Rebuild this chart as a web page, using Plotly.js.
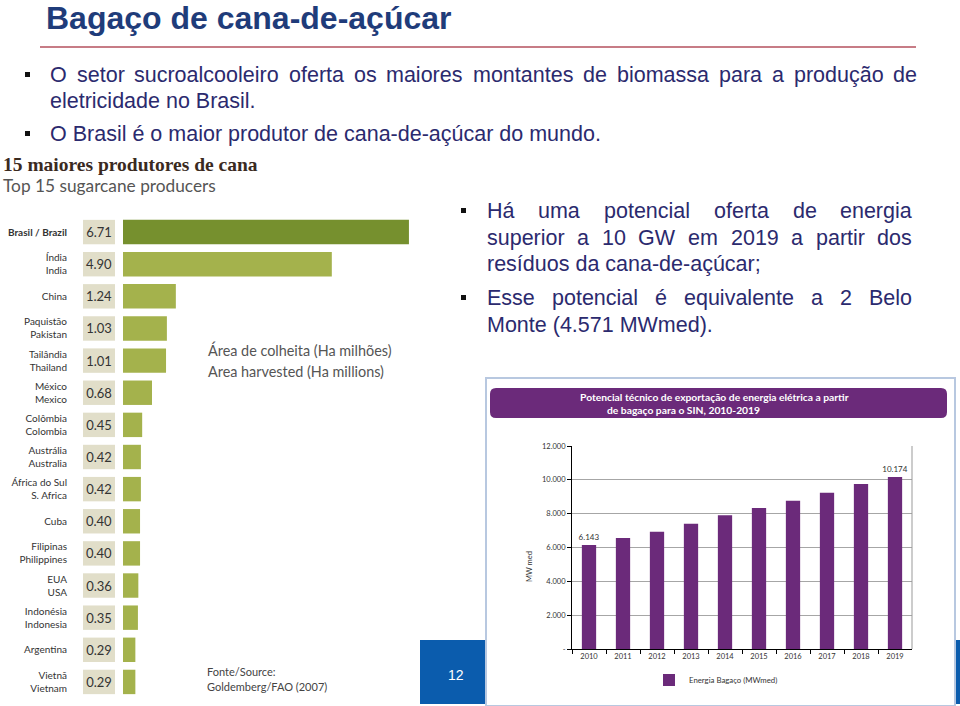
<!DOCTYPE html>
<html>
<head>
<meta charset="utf-8">
<script src="https://cdn.plot.ly/plotly-3.0.1.min.js"></script>
<style>html,body{margin:0;padding:0;background:#fff;}#chart{width:960px;height:706px;}</style>
</head>
<body>
<div id="chart"></div>
<script>
// ---- Data: top 15 sugarcane producers (area harvested, Ha millions) ----
const countriesPt = ['Brasil','Índia','China','Paquistão','Tailândia','México','Colômbia','Austrália','África do Sul','Cuba','Filipinas','EUA','Indonésia','Argentina','Vietnã'];
const countriesEn = ['Brazil','India','China','Pakistan','Thailand','Mexico','Colombia','Australia','S. Africa','Cuba','Philippines','USA','Indonesia','Argentina','Vietnam'];
const areaHarvested = [6.71, 4.90, 1.24, 1.03, 1.01, 0.68, 0.45, 0.42, 0.42, 0.40, 0.40, 0.36, 0.35, 0.29, 0.29];

// ---- Data: bagasse electricity export potential (MWmed) ----
const years = ['2010','2011','2012','2013','2014','2015','2016','2017','2018','2019'];
const energyMWmed = [6143, 6560, 6930, 7400, 7910, 8340, 8770, 9240, 9760, 10174];
const yTickVals = [0, 2000, 4000, 6000, 8000, 10000, 12000];
const yTickLabels = ['-', '2.000', '4.000', '6.000', '8.000', '10.000', '12.000'];

// ---- helpers ----
const W = 960, H = 706;
const px = x => x / W;
const py = y => 1 - y / H;

const countryLabels = countriesPt.map((p, i) => {
  const e = countriesEn[i];
  if (i === 0) return '<b>' + p + ' / ' + e + '</b>';
  return p === e ? p : p + '<br>' + e;
});
const valueLabels = areaHarvested.map(v => v.toFixed(2));
const fmtPt = v => String(Math.round(v)).replace(/\B(?=(\d{3})+(?!\d))/g, '.');
const energyLabels = energyMWmed.map((v, i) => (i === 0 || i === energyMWmed.length - 1) ? fmtPt(v) : '');

const barColors = areaHarvested.map((v, i) => i === 0 ? '#76902e' : '#a4b24c');

const traces = [
  { // value boxes
    type: 'bar', orientation: 'h',
    x: areaHarvested.map(() => 1), y: countriesEn,
    xaxis: 'x2', yaxis: 'y',
    marker: { color: '#e1dec9' }, width: 0.76,
    text: valueLabels, textposition: 'inside', insidetextanchor: 'middle',
    textfont: { family: 'Lato, sans-serif', size: 13, color: '#333' },
    constraintext: 'none', textangle: 0,
    showlegend: false, hoverinfo: 'skip'
  },
  { // area bars
    type: 'bar', orientation: 'h',
    x: areaHarvested, y: countriesEn,
    xaxis: 'x', yaxis: 'y',
    marker: { color: barColors }, width: 0.76,
    showlegend: false
  },
  { // energy bars
    type: 'bar',
    x: years, y: energyMWmed,
    xaxis: 'x3', yaxis: 'y3',
    name: 'Energia Bagaço (MWmed)',
    marker: { color: '#6b2a7a' }, width: 0.42,
    text: energyLabels, textposition: 'outside', cliponaxis: false,
    constraintext: 'none', textangle: 0,
    textfont: { family: 'Lato, sans-serif', size: 8, color: '#333' },
    showlegend: true
  }
];

// ---- text layout (slide) ----
const canvas = document.createElement('canvas');
const ctx = canvas.getContext('2d');
const slideFamily = 'Liberation Sans, Arial, sans-serif';
const slideSize = 21.5;
const slideColor = '#2b2a6e';
function measure(t) { ctx.font = slideSize + 'px "Liberation Sans", Arial, sans-serif'; return ctx.measureText(t).width; }
const annotations = [];
function textAt(t, x, y, opts) {
  annotations.push(Object.assign({
    text: t, x: px(x), y: py(y), xref: 'paper', yref: 'paper',
    xanchor: 'left', yanchor: 'middle', showarrow: false, borderpad: 0, borderwidth: 0,
    font: { family: slideFamily, size: slideSize, color: slideColor }
  }, opts || {}));
}
function justified(line, x0, x1, y) {
  const words = line.split(' ');
  const ws = words.map(measure);
  const sum = ws.reduce((a, b) => a + b, 0);
  const gap = (x1 - x0 - sum) / (words.length - 1);
  let x = x0;
  words.forEach((w, i) => { textAt(w, x, y); x += ws[i] + gap; });
}

// title
textAt('<b>Bagaço de cana-de-açúcar</b>', 46, 18, { font: { family: slideFamily, size: 32, color: '#1f3c7a' } });
// left bullets
justified('O setor sucroalcooleiro oferta os maiores montantes de biomassa para a produção de', 50, 917, 75);
textAt('eletricidade no Brasil.', 50, 101);
textAt('O Brasil é o maior produtor de cana-de-açúcar do mundo.', 50, 134);
// right bullets
justified('Há uma potencial oferta de energia', 487, 912, 211);
justified('superior a 10 GW em 2019 a partir dos', 487, 912, 238);
textAt('resíduos da cana-de-açúcar;', 487, 264);
justified('Esse potencial é equivalente a 2 Belo', 487, 912, 298);
textAt('Monte (4.571 MWmed).', 487, 325);

// left chart texts
textAt('<b>15 maiores produtores de cana</b>', 3, 164, { font: { family: 'Liberation Serif, serif', size: 19.5, color: '#3a2a1f' } });
textAt('Top 15 sugarcane producers', 3, 185, { font: { family: 'Lato, sans-serif', size: 17.3, color: '#555' } });
textAt('Área de colheita (Ha milhões)', 208, 350, { font: { family: 'Lato, sans-serif', size: 14.4, color: '#555' } });
textAt('Area harvested (Ha millions)', 208, 371, { font: { family: 'Lato, sans-serif', size: 14.4, color: '#555' } });
textAt('Fonte/Source:', 207, 671, { font: { family: 'Lato, sans-serif', size: 11, color: '#444' } });
textAt('Goldemberg/FAO (2007)', 207, 686, { font: { family: 'Lato, sans-serif', size: 11, color: '#444' } });

// right chart texts
textAt('<b>Potencial técnico de exportação de energia elétrica a partir</b>', 714, 397, { xanchor: 'center', font: { family: 'Lato, sans-serif', size: 10.3, color: '#fff' } });
textAt('<b>de bagaço para o SIN, 2010-2019</b>', 683, 410, { xanchor: 'center', font: { family: 'Lato, sans-serif', size: 10.3, color: '#fff' } });
textAt('MW med', 529, 567, { xanchor: 'center', textangle: -90, font: { family: 'Lato, sans-serif', size: 7.5, color: '#333' } });
// slide number
textAt('12', 456, 675, { xanchor: 'center', font: { family: slideFamily, size: 14, color: '#fff' } });

// ---- shapes ----
function rect(x0, y0, x1, y1, fill, line) {
  return { type: 'rect', xref: 'paper', yref: 'paper', x0: px(x0), x1: px(x1), y0: py(y1), y1: py(y0),
    fillcolor: fill, line: line || { width: 0 }, layer: 'below' };
}
function roundRect(x0, y0, x1, y1, r, fill) {
  const rx = r / W, ry = r / H;
  const X0 = px(x0), X1 = px(x1), Yt = py(y0), Yb = py(y1);
  const path = `M ${X0 + rx} ${Yt} L ${X1 - rx} ${Yt} Q ${X1} ${Yt} ${X1} ${Yt - ry} L ${X1} ${Yb + ry} Q ${X1} ${Yb} ${X1 - rx} ${Yb} L ${X0 + rx} ${Yb} Q ${X0} ${Yb} ${X0} ${Yb + ry} L ${X0} ${Yt - ry} Q ${X0} ${Yt} ${X0 + rx} ${Yt} Z`;
  return { type: 'path', xref: 'paper', yref: 'paper', path: path, fillcolor: fill, line: { width: 0 }, layer: 'below' };
}
const shapes = [
  // title rule
  { type: 'line', xref: 'paper', yref: 'paper', x0: px(40), x1: px(916), y0: py(47), y1: py(47), line: { color: '#b5505e', width: 1.5 }, layer: 'below' },
  // bullets
  rect(25, 72, 30, 77, '#111'),
  rect(25, 131, 30, 136, '#111'),
  rect(461, 208, 466, 213, '#111'),
  rect(461, 295, 466, 300, '#111'),
  // footer
  rect(420, 640, 960, 704, '#0b5cad'),
  // chart box
  rect(486, 378, 955, 706, '#ffffff', { color: '#b8c8e0', width: 2 }),
  roundRect(490, 388, 947, 418, 6, '#6b2a7a'),
  // right border of energy plot
  { type: 'line', xref: 'x3 domain', yref: 'y3 domain', x0: 1, x1: 1, y0: 0, y1: 1, line: { color: '#999', width: 1 } }
];

const layout = {
  width: W, height: H,
  margin: { l: 0, r: 0, t: 0, b: 0 },
  paper_bgcolor: '#ffffff', plot_bgcolor: 'rgba(0,0,0,0)',
  separators: ',.',
  font: { family: 'Lato, sans-serif', color: '#333' },
  barmode: 'overlay',
  xaxis: { domain: [px(123), px(421.3)], range: [0, 7], visible: false, anchor: 'y', fixedrange: true },
  xaxis2: { domain: [px(83), px(115)], range: [0, 1], visible: false, anchor: 'y', fixedrange: true },
  yaxis: {
    domain: [8 / H, 490 / H], type: 'category', categoryarray: countriesEn,
    range: [14.5, -0.5], anchor: 'free', position: px(83), side: 'left',
    showgrid: false, zeroline: false, showline: false, ticks: '',
    tickmode: 'array', tickvals: countriesEn, ticktext: countryLabels,
    ticklabelstandoff: 16,
    tickfont: { family: 'Lato, sans-serif', size: 10, color: '#333' }
  },
  xaxis3: {
    domain: [px(572), px(912)], anchor: 'y3', type: 'category',
    showline: true, linecolor: '#000', linewidth: 1,
    ticks: 'outside', tickson: 'boundaries', ticklen: 4, tickcolor: '#000',
    showgrid: false, tickfont: { family: 'Lato, sans-serif', size: 7.5, color: '#333' }
  },
  yaxis3: {
    domain: [57 / H, 260 / H], anchor: 'x3', range: [0, 12000],
    tickmode: 'array', tickvals: yTickVals, ticktext: yTickLabels,
    showline: true, linecolor: '#000', linewidth: 1,
    ticks: 'outside', ticklen: 4, tickcolor: '#000',
    showgrid: true, gridcolor: '#a6a6a6', gridwidth: 1, zeroline: false,
    tickfont: { family: 'Lato, sans-serif', size: 7.5, color: '#333' }
  },
  showlegend: true,
  legend: {
    x: px(649), y: py(680), xanchor: 'left', yanchor: 'middle',
    bgcolor: 'rgba(0,0,0,0)', font: { family: 'Lato, sans-serif', size: 7.8, color: '#333' },
    itemwidth: 30
  },
  shapes: shapes,
  annotations: annotations
};

Plotly.newPlot('chart', traces, layout, { staticPlot: true, displayModeBar: false });
</script>
</body>
</html>
